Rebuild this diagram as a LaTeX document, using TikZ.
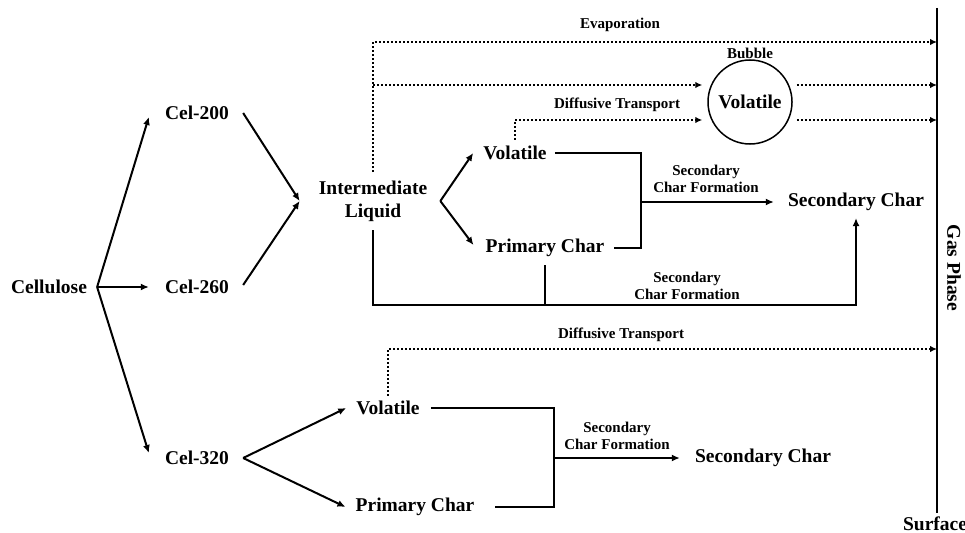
\documentclass[tikz,border=0pt]{standalone}
\usepackage{fontspec}
\setmainfont{Liberation Serif}
\usetikzlibrary{arrows.meta}

\begin{document}
\begin{tikzpicture}[x=1pt,y=1pt,yscale=-1,xscale=1,
  lbl/.style={inner sep=0pt,font=\fontsize{19.5}{23}\selectfont\bfseries,align=center},
  note/.style={inner sep=0pt,font=\fontsize{15}{17}\selectfont\bfseries,align=center},
  solidline/.style={line width=2pt},
  arr/.style={solidline,-{Latex[length=8pt,width=7pt]}},
  dotline/.style={line width=2.3pt,dash pattern={on 2pt off 2pt},-{Latex[length=7pt,width=6.5pt]}}]
    \useasboundingbox (0,0) rectangle (965,532);

    % Text Node
    \draw (49,287) node (cell) [lbl] {Cellulose};
    \draw (197,113) node (c200) [lbl] {Cel-200};
    \draw (197,287) node (c260) [lbl] {Cel-260};
    \draw (197,458) node (c320) [lbl] {Cel-320};
    \draw (373,201) node (il) [lbl] {Intermediate\\Liquid};
    \draw (515,153) node (vol1) [lbl] {Volatile};
    \draw (545,248) node (pc1) [lbl] {Primary Char};
    \draw (856,202) node (sc1) [lbl] {Secondary Char};
    \draw (388,408) node (vol2) [lbl] {Volatile};
    \draw (415,507) node (pc2) [lbl] {Primary Char};
    \draw (763,458) node (sc2) [lbl] {Secondary Char};
    \draw (954,268) node (gas) [lbl,rotate=-90] {Gas Phase};
    \draw (935,524) node (surf) [lbl] {Surface};
    %Shape: Circle
    \draw (750,102) node (bub) [lbl,circle,draw,line width=1.5pt,minimum size=84pt] {Volatile};

    % Text Node (labels)
    \draw (620,25) node (evap) [note] {Evaporation};
    \draw (750,53) node (bubl) [note] {Bubble};
    \draw (617,105) node (diff1) [note] {Diffusive Transport};
    \draw (706,179) node (scf1) [note] {Secondary\\Char Formation};
    \draw (687,286) node (scf2) [note] {Secondary\\Char Formation};
    \draw (621,335) node (diff2) [note] {Diffusive Transport};
    \draw (617,436) node (scf3) [note] {Secondary\\Char Formation};

    % (yshift points down here, yscale=-1)
    \coordinate (surfT) at (937,8);
    \coordinate (surfB) at (937,513);
    \coordinate (yEvap) at (0,42);
    \coordinate (yBub) at (0,85);
    \coordinate (yDiff) at (0,120);
    \coordinate (yBase) at (0,305);
    \coordinate (yDiff2) at (0,349);
    \coordinate (f0) at ([xshift=10pt]cell.east);
    \coordinate (ilin) at ([xshift=-19pt]il.west);
    \coordinate (ilout) at ([xshift=13pt]il.east);
    \coordinate (ilup) at ([yshift=-29pt]il.center);
    \coordinate (ildown) at ([yshift=29pt]il.center);
    \coordinate (f320) at ([xshift=14pt]c320.east);
    \coordinate (jA) at (641,202);
    \coordinate (jB) at (554,458);

    %Straight Lines: surface
    \draw [line width=2.2pt] (surfT) -- (surfB);

    %Straight Lines: cellulose branches
    \draw [arr] (f0) -- ([xshift=-16pt,yshift=4pt]c200.west);
    \draw [arr] (f0) -- ([xshift=-16pt]c260.west);
    \draw [arr] (f0) -- ([xshift=-16pt,yshift=-5pt]c320.west);
    \draw [arr] ([xshift=14pt]c200.east) -- (ilin);
    \draw [arr] ([xshift=14pt,yshift=-2pt]c260.east) -- (ilin);

    %Straight Lines: intermediate liquid
    \draw [arr] (ilout) -- ([xshift=-10pt]vol1.west);
    \draw [arr] (ilout) -- ([xshift=-12pt,yshift=-3pt]pc1.west);
    \draw [solidline] ([xshift=8pt]vol1.east) -| (jA) |- ([xshift=9pt]pc1.east);
    \draw [arr] (jA) -- ([xshift=-14pt]sc1.west);
    \draw [arr] (ildown) -- (ildown |- yBase) -| ([yshift=7pt]sc1.south);
    \draw [solidline] ([yshift=8pt]pc1.south) -- (pc1.south |- yBase);

    %Dotted Lines: gas transport
    \draw [dotline] (ilup) -- (ilup |- yEvap) -- (surfT |- yEvap);
    \draw [dotline] (ilup |- yBub) -- ([xshift=-5pt]bub.west |- yBub);
    \draw [dotline] ([xshift=4pt]bub.east |- yBub) -- (surfT |- yBub);
    \draw [dotline] ([yshift=-6pt]vol1.north) -- (vol1.north |- yDiff) -- ([xshift=-5pt]bub.west |- yDiff);
    \draw [dotline] ([xshift=4pt]bub.east |- yDiff) -- (surfT |- yDiff);

    %Straight Lines: Cel-320
    \draw [arr] (f320) -- ([xshift=-10pt]vol2.west);
    \draw [arr] (f320) -- ([xshift=-10pt]pc2.west);
    \draw [solidline] ([xshift=11pt]vol2.east) -| (jB) |- ([xshift=20pt]pc2.east);
    \draw [arr] (jB) -- ([xshift=-15pt]sc2.west);
    \draw [dotline] ([yshift=-5pt]vol2.north) -- (vol2.north |- yDiff2) -- (surfT |- yDiff2);

\end{tikzpicture}
\end{document}
